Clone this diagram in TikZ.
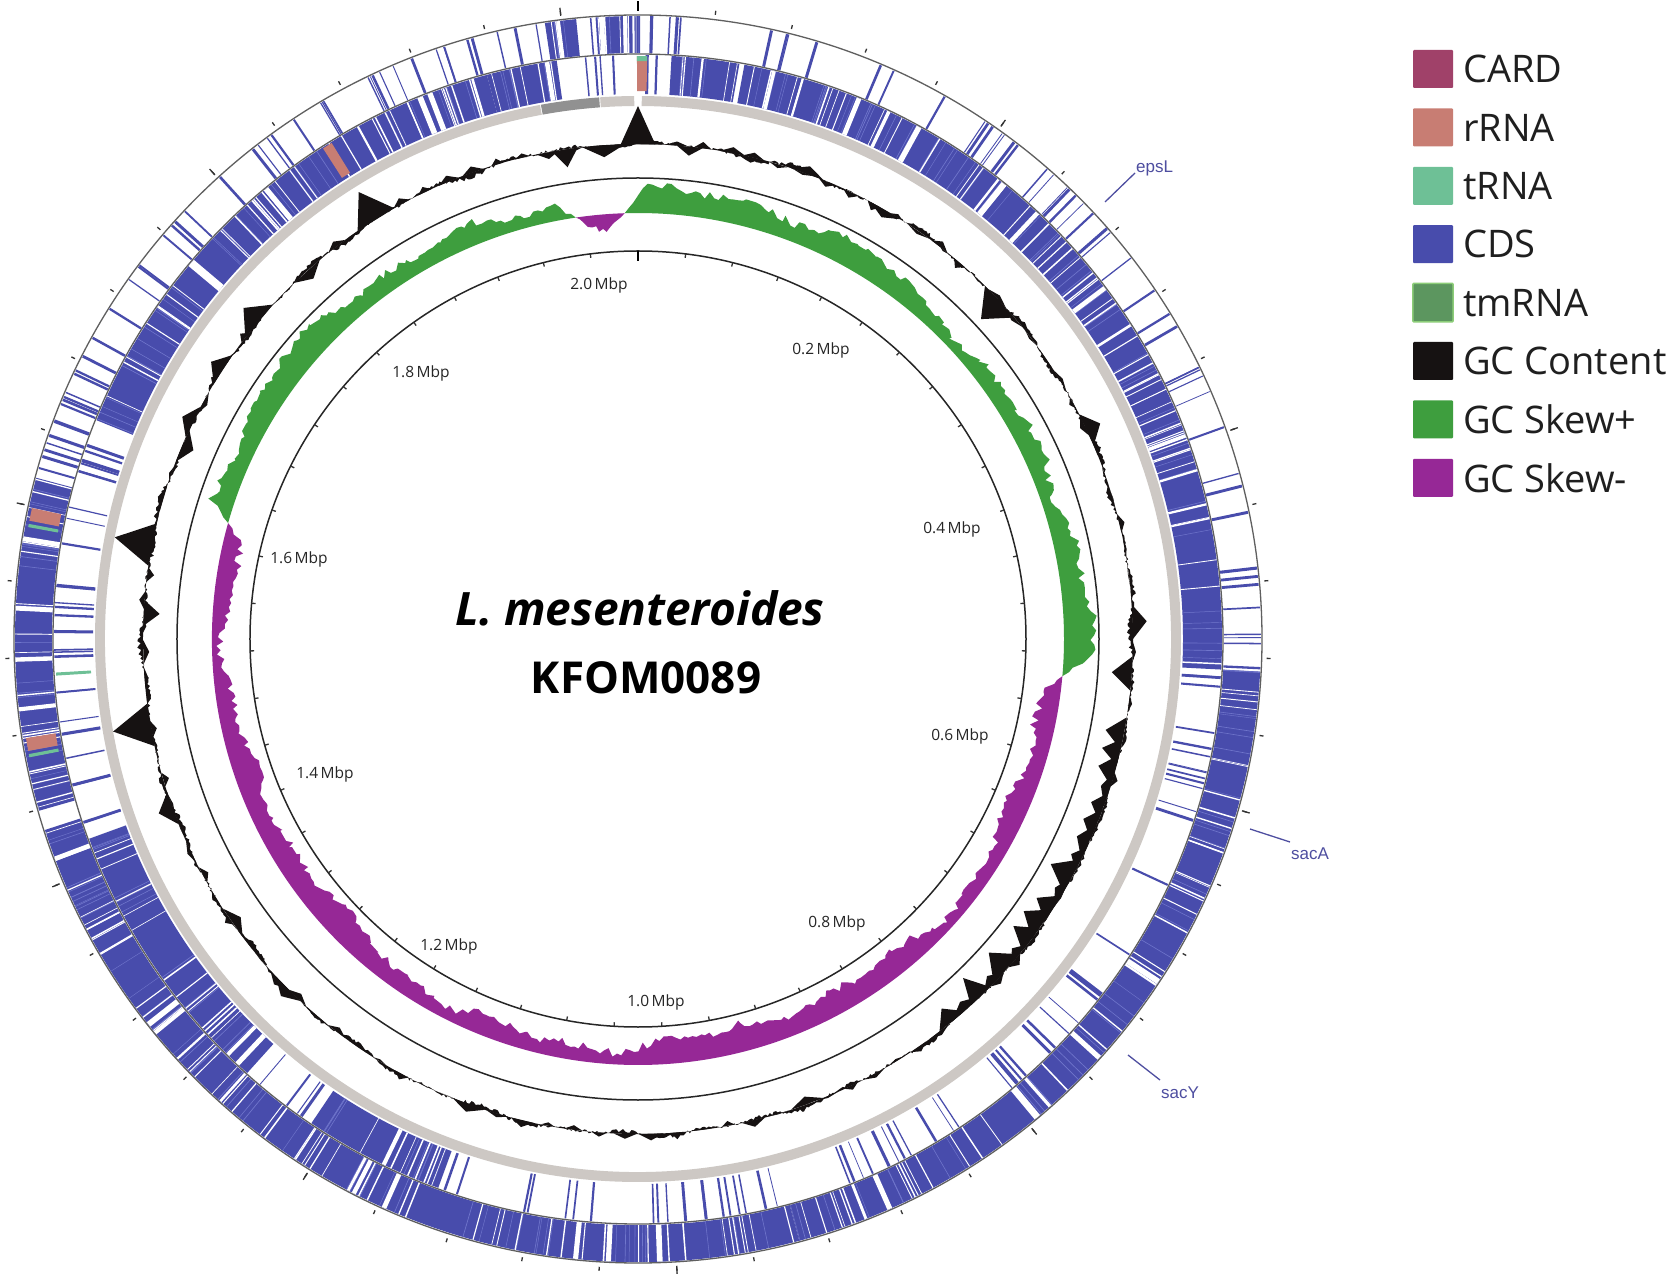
\documentclass[tikz,border=0pt]{standalone}
\usepackage{fontspec}
\setmainfont{Open Sans}
\newfontfamily\genefont{Liberation Sans}
\definecolor{cdsc}{RGB}{72,76,172}
\definecolor{cdslt}{RGB}{112,118,204}
\definecolor{rrnac}{RGB}{200,125,115}
\definecolor{trnac}{RGB}{110,192,150}
\definecolor{cardc}{RGB}{160,65,105}
\definecolor{tmrnac}{RGB}{92,150,95}
\definecolor{tmrnab}{RGB}{140,205,120}
\definecolor{gcc}{RGB}{22,18,18}
\definecolor{skp}{RGB}{62,158,62}
\definecolor{skm}{RGB}{150,40,150}
\definecolor{bbone}{RGB}{205,200,196}
\definecolor{bbdark}{RGB}{145,145,145}
\definecolor{ringline}{RGB}{95,95,95}
\definecolor{genec}{RGB}{78,78,160}
\newcommand\SecFill[5]{\fill[#1] ({90-(#4)}:#3pt) arc[start angle={90-(#4)}, end angle={90-(#5)}, radius=#3pt] -- ({90-(#5)}:#2pt) arc[start angle={90-(#5)}, end angle={90-(#4)}, radius=#2pt] -- cycle;}
\newcommand\RadLines[8]{%
  \foreach \k in {1,...,#6}{%
    \pgfmathsetmacro\ang{90-(#4)-rnd*((#5)-(#4))}%
    \pgfmathsetmacro\lw{(#8)+(#7)*rnd}%
    \draw[#1,line width=\lw pt] (\ang:#2pt) -- (\ang:#3pt);}}
\newcommand\DenseSeg[5]{\SecFill{cdsc}{#1}{#2}{#3}{#4}%
  \RadLines{cdslt}{#1}{#2}{#3}{#4}{#5}{0.3}{0.4}%
  \RadLines{white}{#1}{#2}{#3}{#4}{#5}{1.0}{0.6}%
  \pgfmathtruncatemacro\gapn{max(1,(#5)/5)}%
  \RadLines{white}{#1}{#2}{#3}{#4}{\gapn}{4}{2}}
\newcommand\SparseSeg[5]{\RadLines{cdsc}{#1}{#2}{#3}{#4}{#5}{2.4}{0.7}}
\newcommand\Skew[5]{\fill[#1] plot[domain=#2:#3, samples=#5, variable=\q] ({90-\q}:{426+(#4)*min(1,(\q-(#2))/2.5,((#3)-\q)/2.5)*(15+5*sin(5*\q)+4*sin(13*\q+30)+3*sin(29*\q+10)+9*rnd)}) -- ({90-(#3)}:426pt) arc[start angle={90-(#3)}, end angle={90-(#2)}, radius=426pt] -- cycle;}
\newcommand\Spike[3]{\fill[gcc] ({90-(#1)+(#3)}:495pt) -- ({90-(#1)}:{495+(#2)}) -- ({90-(#1)-(#3)}:495pt) -- cycle;}
\tikzset{
  ticklab/.style={font=\fontsize{15.5}{18}\selectfont, text=black!85, inner sep=0pt},
  legbox/.style={minimum width=40pt, minimum height=38pt, inner sep=0pt, rounded corners=1pt},
  legtxt/.style={anchor=west, font=\fontsize{38}{44}\selectfont, text=black!88, inner sep=0pt},
  genelab/.style={font=\genefont\fontsize{17}{19}\selectfont, text=genec, inner sep=0pt},
  geneline/.style={genec, line width=1.3pt},
  tickmark/.style={black!80, line width=1.3pt}
}
\begin{document}
\begin{tikzpicture}[x=1pt,y=1pt]
\useasboundingbox (-638,-642) rectangle (1034,639);
\fill[white] (-638,-642) rectangle (1034,639);
\pgfmathsetseed{4242}
% ---- ring 1 (outer) ----
\foreach \a/\b/\nn in {351.4/354.3/4, 356.2/358.6/3, 359/360.2/2, 93/165/40, 165/252/55, 254/285/22}{\DenseSeg{586}{623}{\a}{\b}{\nn}}
\foreach \a/\b/\nn in {344/351/6, 354.3/356.2/2, 0.8/4/5, 11/25/6, 25/93/40, 285/344/42, 252/254/1}{\SparseSeg{586}{623}{\a}{\b}{\nn}}
% ---- ring 2 ----
\foreach \a/\b/\nn in {345/352/5, 3.3/10/4, 10.5/93/55, 292/345/35, 200/214/8, 222/250/14}{\DenseSeg{545}{584}{\a}{\b}{\nn}}
\foreach \a/\b/\nn in {354.5/358.5/4, 0.9/2/2, 93/165/40, 165/200/20, 214/222/5, 250/292/28}{\SparseSeg{545}{584}{\a}{\b}{\nn}}
% rRNA / tRNA
\SecFill{rrnac}{548}{583}{359.9}{360.9}
\SecFill{trnac}{578}{583}{359.9}{360.9}
\SecFill{rrnac}{548}{583}{327.3}{328.3}
\SecFill{rrnac}{590}{620}{281}{282.2}
\SecFill{trnac}{590}{620}{280.4}{280.7}
\SecFill{rrnac}{590}{620}{259.6}{260.8}
\SecFill{trnac}{590}{620}{259.0}{259.3}
\SecFill{trnac}{548}{583}{266.4}{266.7}
% backbone
\SecFill{bbone}{533}{543}{0.4}{349.6}
\SecFill{bbdark}{533}{543}{349.7}{355.9}
\SecFill{bbone}{533}{543}{356}{359.6}
% ring lines
\draw[ringline, line width=1.3pt] (0,0) circle[radius=624pt];
\draw[ringline, line width=1.3pt] (0,0) circle[radius=585pt];
% GC content
\fill[gcc, even odd rule] plot[domain=0:360, samples=1441, variable=\q] ({90-\q}:{495+2.2*sin(23*\q)+2*sin(43*\q+40)+4*(rnd-0.5)}) -- cycle (0,0) circle[radius=495pt];
\foreach \c/\h/\w in {0/38/2, -8.5/-18/1.5, -4/-12/2.5, 6/-9/1.5, 11/6/1.5, 328/32/2.5, 318/-10/2, 310/20/2.5, 303/14/2, 296/12/2, 293/-12/2, 281/38/2.5, 273/-16/1.5, 260/38/2.5, 250/15/2, 47/-26/2.5, 65/15/2, 88/14/2, 94/-20/2, 225/10/2, 235/-10/2, 30/-8/2, 20/8/2, 160/-8/2, 200/8/2}{\Spike{\c}{\h}{\w}}
\foreach \c in {101,103.2,...,141}{\pgfmathsetmacro\hh{-(8+18*rnd)}\pgfmathsetmacro\ww{1.5+0.8*rnd}\Spike{\c}{\hh}{\ww}}
\foreach \c in {1.5,4.5,...,358.5}{\pgfmathsetmacro\hh{(rnd-0.5)*14}\pgfmathsetmacro\ww{0.7+0.8*rnd}\Spike{\c}{\hh}{\ww}}
% GC skew
\Skew{skp}{358.2}{455}{1}{160}
\Skew{skp}{285.8}{351.6}{1}{110}
\Skew{skm}{95}{285.8}{-1}{320}
\Skew{skm}{351.6}{358.2}{-1}{14}
% inner circles
\draw[black!85, line width=1.5pt] (0,0) circle[radius=461pt];
\draw[black!85, line width=1.5pt] (0,0) circle[radius=388pt];
% ticks
\foreach \k in {1,...,50}{\pgfmathsetmacro\ta{90-\k*7.0588235}
  \draw[tickmark] (\ta:388pt) -- (\ta:384pt);
  \draw[tickmark] (\ta:629pt) -- (\ta:633pt);}
\draw[black, line width=2.5pt] (90:388pt) -- (90:378pt);
\draw[black, line width=2.5pt] (90:628pt) -- (90:638pt);
\foreach \k/\lbl/\lx/\ly in {5/0.2/183/289,10/0.4/314/110,15/0.6/322/-97,20/0.8/199/-284,25/1.0/18/-363,30/1.2/-189/-307,35/1.4/-313/-135,40/1.6/-339/80,45/1.8/-217/266,50/2.0/-39/354}{\pgfmathsetmacro\ta{90-\k*7.0588235}
  \draw[tickmark] (\ta:628pt) -- (\ta:636pt);
  \node[ticklab] (lab\k) at (\lx,\ly) {\lbl\,Mbp};}
% centre title
\node[font=\fontsize{46}{54}\selectfont\bfseries\itshape] (species) at (2,31) {L. mesenteroides};
\node[font=\fontsize{44}{52}\selectfont\bfseries] (strain) at (8,-39) {KFOM0089};
% gene labels
\coordinate (eL1) at (467,437); \coordinate (eL2) at (497,466);
\node[genelab, anchor=base west] (epsL) at (498,466) {epsL};
\draw[geneline] (eL1) -- (eL2);
\coordinate (sA1) at (612,-190); \coordinate (sA2) at (652,-203);
\node[genelab, anchor=west] (sacA) at (653,-215) {sacA};
\draw[geneline] (sA1) -- (sA2);
\coordinate (sY1) at (490,-416); \coordinate (sY2) at (522,-441);
\node[genelab, anchor=west] (sacY) at (523,-454) {sacY};
\draw[geneline] (sY1) -- (sY2);
% legend
\foreach \i/\c/\lbl in {0/cardc/CARD,1/rrnac/rRNA,2/trnac/tRNA,3/cdsc/CDS,4/tmrnac/tmRNA,5/gcc/GC Content,6/skp/GC Skew+,7/skm/GC Skew-}{
  \pgfmathsetmacro\yy{570-58.4*\i}
  \node[legbox, fill=\c] (lb\i) at (795,\yy) {};
  \node[legtxt] (lt\i) at (825,\yy) {\lbl};}
\draw[tmrnab, line width=1.5pt, rounded corners=1pt] (lb4.south west) rectangle (lb4.north east);
\end{tikzpicture}
\end{document}
